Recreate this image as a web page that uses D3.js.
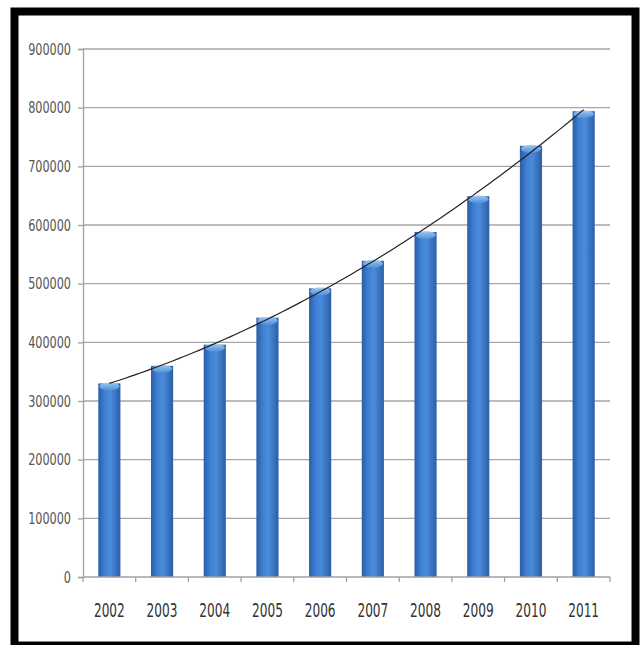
<!DOCTYPE html>
<html>
<head>
<meta charset="utf-8">
<script src="https://cdn.jsdelivr.net/npm/d3@7"></script>
<style>
  body { margin: 0; background: #fff; }
  svg { display: block; }
  text { font-family: "DejaVu Sans Condensed", "Liberation Sans Narrow", sans-serif; }
</style>
</head>
<body>
<div id="chart"></div>
<script>
var years = ['2002', '2003', '2004', '2005', '2006', '2007', '2008', '2009', '2010', '2011'];
var values = [330000, 360000, 396000, 442000, 492000, 539000, 588000, 649000, 735000, 794000];
var yTicks = [0, 100000, 200000, 300000, 400000, 500000, 600000, 700000, 800000, 900000];

var width = 641;
var height = 645;
var plotLeft = 83, plotRight = 610, plotTop = 49, plotBottom = 577;

var svg = d3.select('#chart')
            .append('svg')
            .attr('width', width)
            .attr('height', height);

var defs = svg.append('defs');

// horizontal gradient gives the bars a rounded look
var grad = defs.append('linearGradient')
               .attr('id', 'barGrad')
               .attr('x1', '0%').attr('x2', '100%')
               .attr('y1', '0%').attr('y2', '0%');
grad.append('stop').attr('offset', '0%').attr('stop-color', '#2a5da6');
grad.append('stop').attr('offset', '30%').attr('stop-color', '#3f80d2');
grad.append('stop').attr('offset', '55%').attr('stop-color', '#4a8bdb');
grad.append('stop').attr('offset', '100%').attr('stop-color', '#2b5ea8');

var capGrad = defs.append('linearGradient')
                  .attr('id', 'capGrad')
                  .attr('x1', '0%').attr('x2', '0%')
                  .attr('y1', '0%').attr('y2', '100%');
capGrad.append('stop').attr('offset', '0%').attr('stop-color', '#a9d2f5');
capGrad.append('stop').attr('offset', '100%').attr('stop-color', '#4f90dd');

var x = d3.scaleBand()
          .domain(years)
          .range([plotLeft, plotRight])
          .paddingInner(0.58)
          .paddingOuter(0.29);

var y = d3.scaleLinear()
          .domain([0, 900000])
          .range([plotBottom, plotTop]);

// grid lines
svg.append('g')
   .selectAll('line')
   .data(yTicks.slice(1))
   .enter()
   .append('line')
     .attr('x1', plotLeft)
     .attr('x2', plotRight)
     .attr('y1', function (d) { return y(d); })
     .attr('y2', function (d) { return y(d); })
     .attr('stroke', '#a6a6a6')
     .attr('stroke-width', 1.3);

// y axis
var yAxis = d3.axisLeft(y)
              .tickValues(yTicks)
              .tickFormat(d3.format('d'))
              .tickSize(5)
              .tickPadding(7);

var gy = svg.append('g')
            .attr('transform', 'translate(' + plotLeft + ',0)')
            .call(yAxis);
gy.select('.domain').attr('stroke', '#a0a0a0').attr('stroke-width', 1.3);
gy.selectAll('.tick line').attr('stroke', '#a0a0a0').attr('stroke-width', 1.3);
// labels in the picture are tall and narrow
gy.selectAll('text')
  .attr('font-size', 12.5)
  .attr('fill', '#555')
  .attr('transform', 'scale(1,1.3)')
  .style('font-family', '"DejaVu Sans Condensed", "Liberation Sans Narrow", sans-serif');

// bars
var bars = svg.append('g')
              .selectAll('g')
              .data(values)
              .enter()
              .append('g');

bars.append('rect')
    .attr('x', function (d, i) { return x(years[i]); })
    .attr('y', function (d) { return y(d); })
    .attr('width', x.bandwidth())
    .attr('height', function (d) { return y(0) - y(d); })
    .attr('fill', 'url(#barGrad)');

bars.append('ellipse')
    .attr('cx', function (d, i) { return x(years[i]) + x.bandwidth() / 2; })
    .attr('cy', function (d) { return y(d) + 3; })
    .attr('rx', x.bandwidth() / 2 - 1)
    .attr('ry', 4)
    .attr('fill', 'url(#capGrad)')
    .attr('opacity', 0.9);

// x axis drawn over bar bottoms
var gx = svg.append('g')
            .attr('transform', 'translate(0,' + plotBottom + ')');
gx.append('line')
  .attr('x1', plotLeft).attr('x2', plotRight)
  .attr('stroke', '#a0a0a0').attr('stroke-width', 1.3);

var bounds = years.map(function (d) { return x(d) - x.step() * x.paddingInner() / 2; });
bounds.push(plotRight);
gx.selectAll('.tk')
  .data(bounds)
  .enter()
  .append('line')
    .attr('class', 'tk')
    .attr('x1', function (d) { return d; })
    .attr('x2', function (d) { return d; })
    .attr('y1', 0).attr('y2', 5)
    .attr('stroke', '#a0a0a0').attr('stroke-width', 1.3);

gx.selectAll('text')
  .data(years)
  .enter()
  .append('text')
    .attr('transform', function (d) {
      return 'translate(' + (x(d) + x.bandwidth() / 2) + ',33) scale(1,1.4)';
    })
    .attr('dy', '0.35em')
    .attr('text-anchor', 'middle')
    .attr('font-size', 13.5)
    .attr('fill', '#333')
    .text(function (d) { return d; });

// polynomial (order 2) trend line fitted to the values
function quadFit(xs, ys) {
  var n = xs.length, s = [0, 0, 0, 0, 0], t = [0, 0, 0];
  for (var i = 0; i < n; i++) {
    var p = 1;
    for (var k = 0; k < 5; k++) { s[k] += p; if (k < 3) t[k] += p * ys[i]; p *= xs[i]; }
  }
  var m = [[s[0], s[1], s[2], t[0]], [s[1], s[2], s[3], t[1]], [s[2], s[3], s[4], t[2]]];
  for (var c = 0; c < 3; c++) {
    for (var r = c + 1; r < 3; r++) {
      var f = m[r][c] / m[c][c];
      for (var q = c; q < 4; q++) m[r][q] -= f * m[c][q];
    }
  }
  var a = [0, 0, 0];
  for (var r2 = 2; r2 >= 0; r2--) {
    var v = m[r2][3];
    for (var q2 = r2 + 1; q2 < 3; q2++) v -= m[r2][q2] * a[q2];
    a[r2] = v / m[r2][r2];
  }
  return a;
}
var idx = values.map(function (d, i) { return i; });
var coef = quadFit(idx, values);
var trend = d3.range(0, 9.01, 0.1).map(function (t) {
  return [t, coef[0] + coef[1] * t + coef[2] * t * t];
});
var xi = d3.scaleLinear()
           .domain([0, years.length - 1])
           .range([x(years[0]) + x.bandwidth() / 2, x(years[years.length - 1]) + x.bandwidth() / 2]);
svg.append('path')
   .datum(trend)
   .attr('d', d3.line()
                .x(function (d) { return xi(d[0]); })
                .y(function (d) { return y(d[1]); }))
   .attr('fill', 'none')
   .attr('stroke', '#222')
   .attr('stroke-width', 1.2);

// thick black frame
svg.append('rect')
   .attr('x', 14.5)
   .attr('y', 11.5)
   .attr('width', 621)
   .attr('height', 634)
   .attr('fill', 'none')
   .attr('stroke', '#000')
   .attr('stroke-width', 8);
</script>
</body>
</html>
